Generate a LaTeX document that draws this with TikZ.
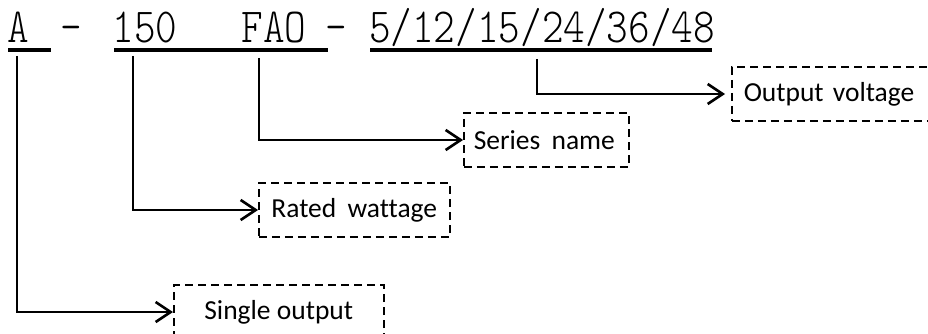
\documentclass[tikz,border=0pt]{standalone}
\usepackage{fontspec}
\usetikzlibrary{arrows.meta}
\newfontfamily\codefont[FakeStretch=0.84]{Latin Modern Mono Light}
\newfontfamily\boxfont[Ligatures=NoCommon]{Carlito}
\tikzset{
  code/.style={anchor=base, inner sep=0pt, font=\codefont\fontsize{49}{55}\selectfont},
  uline/.style={line width=3.4pt},
  lead/.style={line width=2.6pt, -{Straight Barb[length=15pt,width=20pt]}},
  tag/.style={draw, line width=1.5pt, dash pattern=on 8pt off 5pt, anchor=west, minimum height=54pt, font=\boxfont\fontsize{27.5}{32}\selectfont},
}
\begin{document}
\begin{tikzpicture}[x=1pt,y=1pt]
\useasboundingbox (0,0) rectangle (928,-334);
\clip (0,0) rectangle (928,-334);
\node[code] at (18,-43) (typ) {A};\node[code] at (71.5,-43) (d1) {-};
\node[code] at (145,-43) (watt) {150};\node[code] at (274,-43) (ser) {FAO};
\node[code] at (336.5,-43) (d2) {-};\node[code] at (542,-43) (volt) {5/12/15/24/36/48};
\draw[uline] (8,-50) -- (51,-50);\draw[uline] (114,-50) -- (328,-50);\draw[uline] (370,-50) -- (712,-50);
\coordinate (p1) at (17,-56);\coordinate (p2) at (133,-56);\coordinate (p3) at (259,-58);\coordinate (p4) at (537,-59);
\node[tag, minimum width=210pt] at (173,-312) (single) {Single output};
\node[tag, minimum width=191pt] at (258,-210) (rated) {Rated\hspace{5pt} wattage};
\node[tag, text width=145pt, inner xsep=10pt, align=left] at (463,-140) (series) {Series\hspace{2pt} name};
\node[tag, text width=196pt, inner xsep=12pt, align=left] at (731,-94) (output) {Output voltage};
\draw[lead] (p1) |- (single);
\draw[lead] (p2) |- (rated);
\draw[lead] (p3) |- (series);
\draw[lead, shorten >=6pt] (p4) |- (output);
\end{tikzpicture}
\end{document}
